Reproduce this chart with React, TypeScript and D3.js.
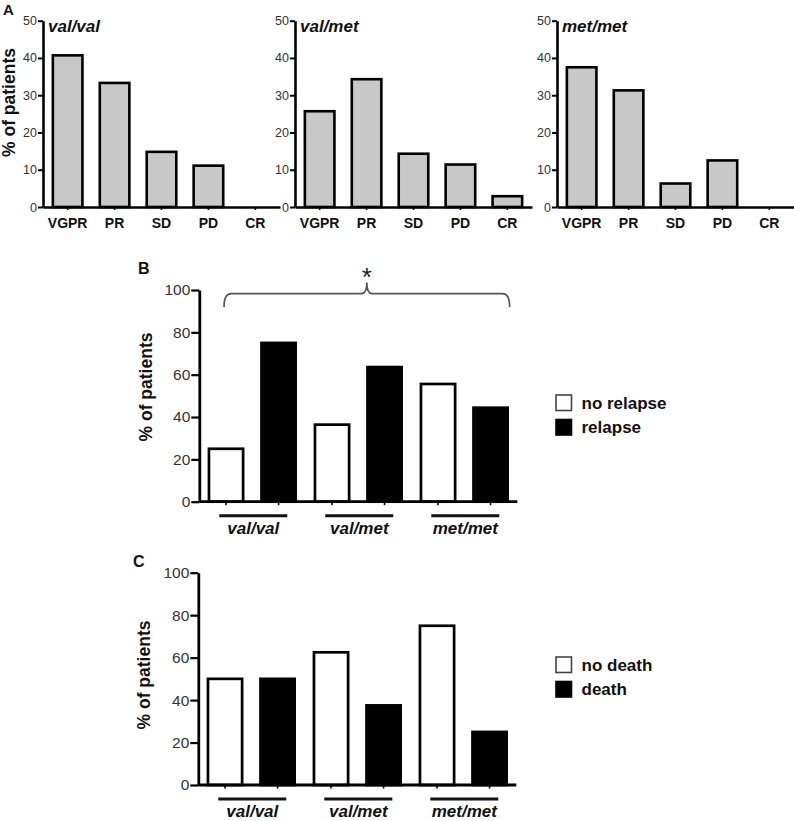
import { useEffect, useRef } from 'react'
import * as d3 from 'd3'

const FONT = '"Liberation Sans", Arial, Helvetica, sans-serif'

// Panel A — best response by genotype (% of patients)
const RESPONSES = ['VGPR', 'PR', 'SD', 'PD', 'CR']
const VALVAL_RESPONSE = [40.7, 33.3, 14.8, 11.1, 0]
const VALMET_RESPONSE = [25.7, 34.3, 14.3, 11.4, 2.9]
const METMET_RESPONSE = [37.5, 31.3, 6.3, 12.5, 0]
const RESPONSE_TICKS = [0, 10, 20, 30, 40, 50]

// Panels B and C — grouped by genotype
const GENOTYPES = ['val/val', 'val/met', 'met/met']
const NO_RELAPSE = [25, 36.4, 55.6]
const RELAPSE = [75, 63.6, 44.4]
const NO_DEATH = [50, 62.5, 75]
const DEATH = [50, 37.5, 25]
const PERCENT_TICKS = [0, 20, 40, 60, 80, 100]

const WIDTH = 794
const HEIGHT = 821

type Sel = d3.Selection<SVGGElement, unknown, null, undefined>

function styleAxis(ax: Sel, lineW: number, tickW: number, fontSize: number) {
  ax.select('.domain').attr('stroke', '#000').attr('stroke-width', lineW)
  ax.selectAll('.tick line').attr('stroke', '#000').attr('stroke-width', tickW)
  ax.selectAll('.tick text')
    .attr('fill', '#333')
    .attr('font-family', FONT)
    .attr('font-size', fontSize)
}

function drawResponse(root: Sel, values: number[], title: string, x0: number) {
  const g = root.append('g')
  const y = d3.scaleLinear().domain([0, 50]).range([207, 20.7])
  const x = d3.scaleBand<string>()
    .domain(RESPONSES)
    .range([x0, x0 + 237])
    .paddingInner(0.37)
    .paddingOuter(0.21)

  RESPONSES.forEach((r, i) => {
    const v = values[i]
    if (v <= 0) return
    g.append('rect')
      .attr('x', x(r) ?? 0)
      .attr('y', y(v))
      .attr('width', x.bandwidth())
      .attr('height', y(0) - y(v))
      .attr('fill', '#c8c8c8')
      .attr('stroke', '#000')
      .attr('stroke-width', 2.6)
  })

  const xAx = g.append('g')
    .attr('transform', `translate(0,${y(0)})`)
    .call(d3.axisBottom(x).tickSize(3).tickSizeOuter(0).tickPadding(8))
  styleAxis(xAx, 2.6, 1.6, 14)
  xAx.selectAll('.tick text').attr('font-weight', 'bold').attr('fill', '#111')

  const yAx = g.append('g')
    .attr('transform', `translate(${x0},0)`)
    .call(d3.axisLeft(y).tickValues(RESPONSE_TICKS).tickSize(5).tickSizeOuter(0).tickPadding(1))
  styleAxis(yAx, 2.6, 2, 12.5)

  g.append('text')
    .attr('x', x0 + 5)
    .attr('y', 31.5)
    .attr('font-family', FONT)
    .attr('font-size', 17)
    .attr('font-weight', 'bold')
    .attr('font-style', 'italic')
    .attr('fill', '#111')
    .text(title)
}

function drawGrouped(
  root: Sel,
  first: number[],
  second: number[],
  x0: number,
  yBottom: number,
  yTop: number,
  legend: [string, string],
  legendY: number,
  yLabelY: number,
  yLabelX: number,
  bracket: boolean,
) {
  const g = root.append('g')
  const y = d3.scaleLinear().domain([0, 100]).range([yBottom, yTop])
  const xOuter = d3.scaleBand<string>().domain(GENOTYPES).range([x0, x0 + 318]).padding(0)
  const xInner = d3.scaleBand<number>()
    .domain([0, 1])
    .range([0, xOuter.bandwidth()])
    .paddingInner(0.35)
    .paddingOuter(0.184)

  const centers: number[] = []
  GENOTYPES.forEach((gt, i) => {
    ;[first[i], second[i]].forEach((v, k) => {
      const bx = (xOuter(gt) ?? 0) + (xInner(k) ?? 0)
      centers.push(bx + xInner.bandwidth() / 2)
      g.append('rect')
        .attr('x', bx)
        .attr('y', y(v))
        .attr('width', xInner.bandwidth())
        .attr('height', y(0) - y(v))
        .attr('fill', k === 0 ? '#fff' : '#000')
        .attr('stroke', '#000')
        .attr('stroke-width', 2.7)
    })
  })

  // x axis line with small ticks at bar centres
  g.append('line')
    .attr('x1', x0).attr('x2', x0 + 318)
    .attr('y1', y(0)).attr('y2', y(0))
    .attr('stroke', '#000').attr('stroke-width', 2.8)
  centers.forEach(c => {
    g.append('line')
      .attr('x1', c).attr('x2', c)
      .attr('y1', y(0)).attr('y2', y(0) + 3.5)
      .attr('stroke', '#000').attr('stroke-width', 1.6)
  })

  const yAx = g.append('g')
    .attr('transform', `translate(${x0},0)`)
    .call(d3.axisLeft(y).tickValues(PERCENT_TICKS).tickSize(8).tickSizeOuter(0).tickPadding(1))
  styleAxis(yAx, 2.8, 2.2, 15.5)

  // genotype labels with underline
  GENOTYPES.forEach(gt => {
    const c = (xOuter(gt) ?? 0) + xOuter.bandwidth() / 2 + 1
    g.append('line')
      .attr('x1', c - 34).attr('x2', c + 34)
      .attr('y1', y(0) + 14).attr('y2', y(0) + 14)
      .attr('stroke', '#111').attr('stroke-width', 3)
    g.append('text')
      .attr('x', c)
      .attr('y', y(0) + 32)
      .attr('text-anchor', 'middle')
      .attr('font-family', FONT)
      .attr('font-size', 17)
      .attr('font-weight', 'bold')
      .attr('font-style', 'italic')
      .attr('fill', '#111')
      .text(gt)
  })

  // y label
  g.append('text')
    .attr('transform', `translate(${yLabelX},${yLabelY}) rotate(-90)`)
    .attr('text-anchor', 'middle')
    .attr('font-family', FONT)
    .attr('font-size', 17.5)
    .attr('font-weight', 'bold')
    .attr('fill', '#111')
    .text('% of patients')

  // legend
  legend.forEach((lab, k) => {
    const ly = legendY + k * 24.5
    g.append('rect')
      .attr('x', 556).attr('y', ly)
      .attr('width', 15.5).attr('height', 15.5)
      .attr('fill', k === 0 ? '#fff' : '#000')
      .attr('stroke', k === 0 ? '#444' : '#000')
      .attr('stroke-width', 1.6)
    g.append('text')
      .attr('x', 581.5).attr('y', ly + 13.5)
      .attr('font-family', FONT)
      .attr('font-size', 17)
      .attr('font-weight', 'bold')
      .attr('fill', '#111')
      .text(lab)
  })

  if (bracket) {
    const left = centers[0] - 2
    const right = (xOuter(GENOTYPES[2]) ?? 0) + (xInner(1) ?? 0) + xInner.bandwidth() + 2
    const mid = (left + right) / 2
    const yb = y(98.3)
    const yEnd = y(92)
    const yPeak = y(103.5)
    const p = d3.path()
    p.moveTo(left, yEnd)
    p.quadraticCurveTo(left, yb, left + 7, yb)
    p.lineTo(mid - 5, yb)
    p.quadraticCurveTo(mid, yb, mid, yPeak)
    p.quadraticCurveTo(mid, yb, mid + 5, yb)
    p.lineTo(right - 7, yb)
    p.quadraticCurveTo(right, yb, right, yEnd)
    g.append('path')
      .attr('d', p.toString())
      .attr('fill', 'none')
      .attr('stroke', '#555')
      .attr('stroke-width', 1.7)
    g.append('text')
      .attr('x', mid)
      .attr('y', yPeak + 3)
      .attr('text-anchor', 'middle')
      .attr('font-family', FONT)
      .attr('font-size', 26)
      .attr('fill', '#222')
      .text('*')
  }
}

function panelLetter(root: Sel, letter: string, x: number, y: number, size: number) {
  root.append('text')
    .attr('x', x).attr('y', y)
    .attr('font-family', FONT)
    .attr('font-size', size)
    .attr('font-weight', 'bold')
    .attr('fill', '#111')
    .text(letter)
}

export default function App() {
  const svgRef = useRef<SVGSVGElement>(null)

  useEffect(() => {
    if (!svgRef.current) return
    const svg = d3.select(svgRef.current)
    svg.selectAll('*').remove()
    const root = svg.append('g') as Sel

    root.append('rect').attr('width', WIDTH).attr('height', HEIGHT).attr('fill', '#fff')

    // Panel A
    panelLetter(root, 'A', 3, 15, 15)
    root.append('text')
      .attr('transform', 'translate(15,102.5) rotate(-90)')
      .attr('text-anchor', 'middle')
      .attr('font-family', FONT)
      .attr('font-size', 17.5)
      .attr('font-weight', 'bold')
      .attr('fill', '#111')
      .text('% of patients')
    drawResponse(root, VALVAL_RESPONSE, 'val/val', 43)
    drawResponse(root, VALMET_RESPONSE, 'val/met', 295)
    drawResponse(root, METMET_RESPONSE, 'met/met', 557)

    // Panel B
    panelLetter(root, 'B', 138, 273.5, 16)
    drawGrouped(root, NO_RELAPSE, RELAPSE, 199.3, 501.7, 290, ['no relapse', 'relapse'], 395, 387, 152, true)

    // Panel C
    panelLetter(root, 'C', 133, 567, 16)
    drawGrouped(root, NO_DEATH, DEATH, 198.3, 785, 572.7, ['no death', 'death'], 657, 675, 150, false)
  }, [])

  return (
    <svg
      ref={svgRef}
      width={WIDTH}
      height={HEIGHT}
      style={{ position: 'absolute', left: 0, top: 0, display: 'block' }}
    />
  )
}
